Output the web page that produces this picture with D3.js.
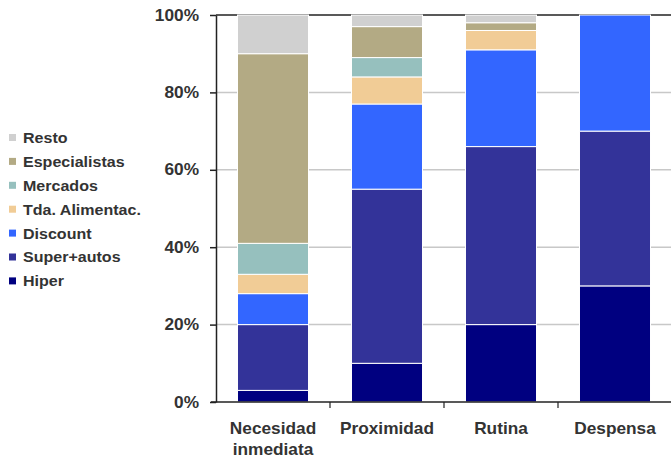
<!DOCTYPE html>
<html>
<head>
<meta charset="utf-8">
<script src="https://cdn.jsdelivr.net/npm/d3@7/dist/d3.min.js"></script>
<style>
  html, body { margin: 0; padding: 0; background: #fff; }
  svg { display: block; font-family: "Liberation Sans", Arial, sans-serif; }
</style>
</head>
<body>
<svg id="chart" width="671" height="460"></svg>
<script>
// Shopping occasions (x axis) and share of each store format (%)
const categories = [["Necesidad", "inmediata"], ["Proximidad"], ["Rutina"], ["Despensa"]];
const seriesNames = ["Hiper", "Super+autos", "Discount", "Tda. Alimentac.", "Mercados", "Especialistas", "Resto"];
const hiper         = [3, 10, 20, 30];
const superAutos    = [17, 45, 46, 40];
const discount      = [8, 22, 25, 30];
const tdaAlimentac  = [5, 7, 5, 0];
const mercados      = [8, 5, 0, 0];
const especialistas = [49, 8, 2, 0];
const resto         = [10, 3, 2, 0];
const yTicks = [0, 20, 40, 60, 80, 100];

const seriesValues = [hiper, superAutos, discount, tdaAlimentac, mercados, especialistas, resto];
const colors = ["#000080", "#333399", "#3366FF", "#F1CC96", "#96C0BE", "#B3AA84", "#D0D0D0"];

const rows = categories.map((c, i) => {
  const r = { key: c.join(" ") };
  seriesNames.forEach((s, j) => { r[s] = seriesValues[j][i]; });
  return r;
});

const svg = d3.select("#chart");
const plotLeft = 216, plotRight = 672, plotTop = 15, plotBottom = 402;
const textStretch = 1.08; // labels are set slightly wide

const x = d3.scaleBand()
  .domain(rows.map(d => d.key))
  .range([plotLeft, plotRight])
  .paddingInner(0.377)
  .paddingOuter(0.1885);

const y = d3.scaleLinear().domain([0, 100]).range([plotBottom, plotTop]);

// Horizontal gridlines
svg.append("g")
  .selectAll("line")
  .data(yTicks.filter(t => t > 0 && t < 100))
  .join("line")
  .attr("x1", plotLeft).attr("x2", plotRight)
  .attr("y1", d => y(d)).attr("y2", d => y(d))
  .attr("stroke", "#c8c8c8")
  .attr("stroke-width", 1.5);

// Top frame line
svg.append("line")
  .attr("x1", plotLeft).attr("x2", plotRight)
  .attr("y1", y(100)).attr("y2", y(100))
  .attr("stroke", "#222").attr("stroke-width", 1.5);

// Stacked bars
const stacked = d3.stack().keys(seriesNames)(rows);
svg.append("g")
  .selectAll("g")
  .data(stacked)
  .join("g")
  .attr("fill", (d, i) => colors[i])
  .selectAll("rect")
  .data(d => d.filter(p => p[1] - p[0] > 0))
  .join("rect")
  .attr("x", d => x(d.data.key))
  .attr("width", x.bandwidth())
  .attr("y", d => y(d[1]))
  .attr("height", d => y(d[0]) - y(d[1]))
  .attr("stroke", "#fff")
  .attr("stroke-width", 1);

// Y axis
const yAxis = svg.append("g")
  .attr("transform", `translate(${plotLeft},0)`)
  .call(d3.axisLeft(y).tickValues(yTicks).tickFormat(d => d + "%").tickSize(6).tickSizeOuter(0));
yAxis.select(".domain").attr("stroke", "#222").attr("stroke-width", 1.5);
yAxis.selectAll(".tick line").attr("stroke", "#222").attr("stroke-width", 1.5);
yAxis.selectAll(".tick text")
  .attr("x", 0)
  .attr("transform", `translate(-17,0) scale(${textStretch},1)`)
  .attr("fill", "#333")
  .style("font-size", "16px")
  .style("font-weight", "bold")
  .style("font-family", "'Liberation Sans', Arial, sans-serif");

// X axis with ticks at category boundaries
svg.append("line")
  .attr("x1", plotLeft - 5).attr("x2", plotRight)
  .attr("y1", plotBottom).attr("y2", plotBottom)
  .attr("stroke", "#222").attr("stroke-width", 1.5);
const step = x.step();
svg.append("g")
  .selectAll("line")
  .data(rows.slice(1))
  .join("line")
  .attr("x1", d => x(d.key) - (step - x.bandwidth()) / 2)
  .attr("x2", d => x(d.key) - (step - x.bandwidth()) / 2)
  .attr("y1", plotBottom).attr("y2", plotBottom + 6)
  .attr("stroke", "#222").attr("stroke-width", 1.2);

// Category labels
const catLabels = svg.append("g")
  .selectAll("text")
  .data(categories)
  .join("text")
  .attr("transform", (d, i) => `translate(${x(rows[i].key) + x.bandwidth() / 2},434) scale(${textStretch},1)`)
  .attr("text-anchor", "middle")
  .attr("fill", "#333")
  .style("font-size", "16px")
  .style("font-weight", "bold");
catLabels.selectAll("tspan")
  .data(d => d)
  .join("tspan")
  .attr("x", 0)
  .attr("dy", (d, i) => i === 0 ? 0 : 21)
  .text(d => d);

// Legend (top entry is the top stack segment)
const legendOrder = seriesNames.map((s, i) => ({ name: s, color: colors[i] })).reverse();
const legend = svg.append("g")
  .selectAll("g")
  .data(legendOrder)
  .join("g")
  .attr("transform", (d, i) => `translate(9,${137.5 + i * 23.9})`);
legend.append("rect")
  .attr("x", 0).attr("y", -3.5)
  .attr("width", 7).attr("height", 7)
  .attr("fill", d => d.color);
legend.append("text")
  .attr("transform", `translate(14,0) scale(1.07,1)`)
  .attr("dy", "0.36em")
  .attr("fill", "#333")
  .style("font-size", "15px")
  .style("font-weight", "bold")
  .text(d => d.name);
</script>
</body>
</html>
